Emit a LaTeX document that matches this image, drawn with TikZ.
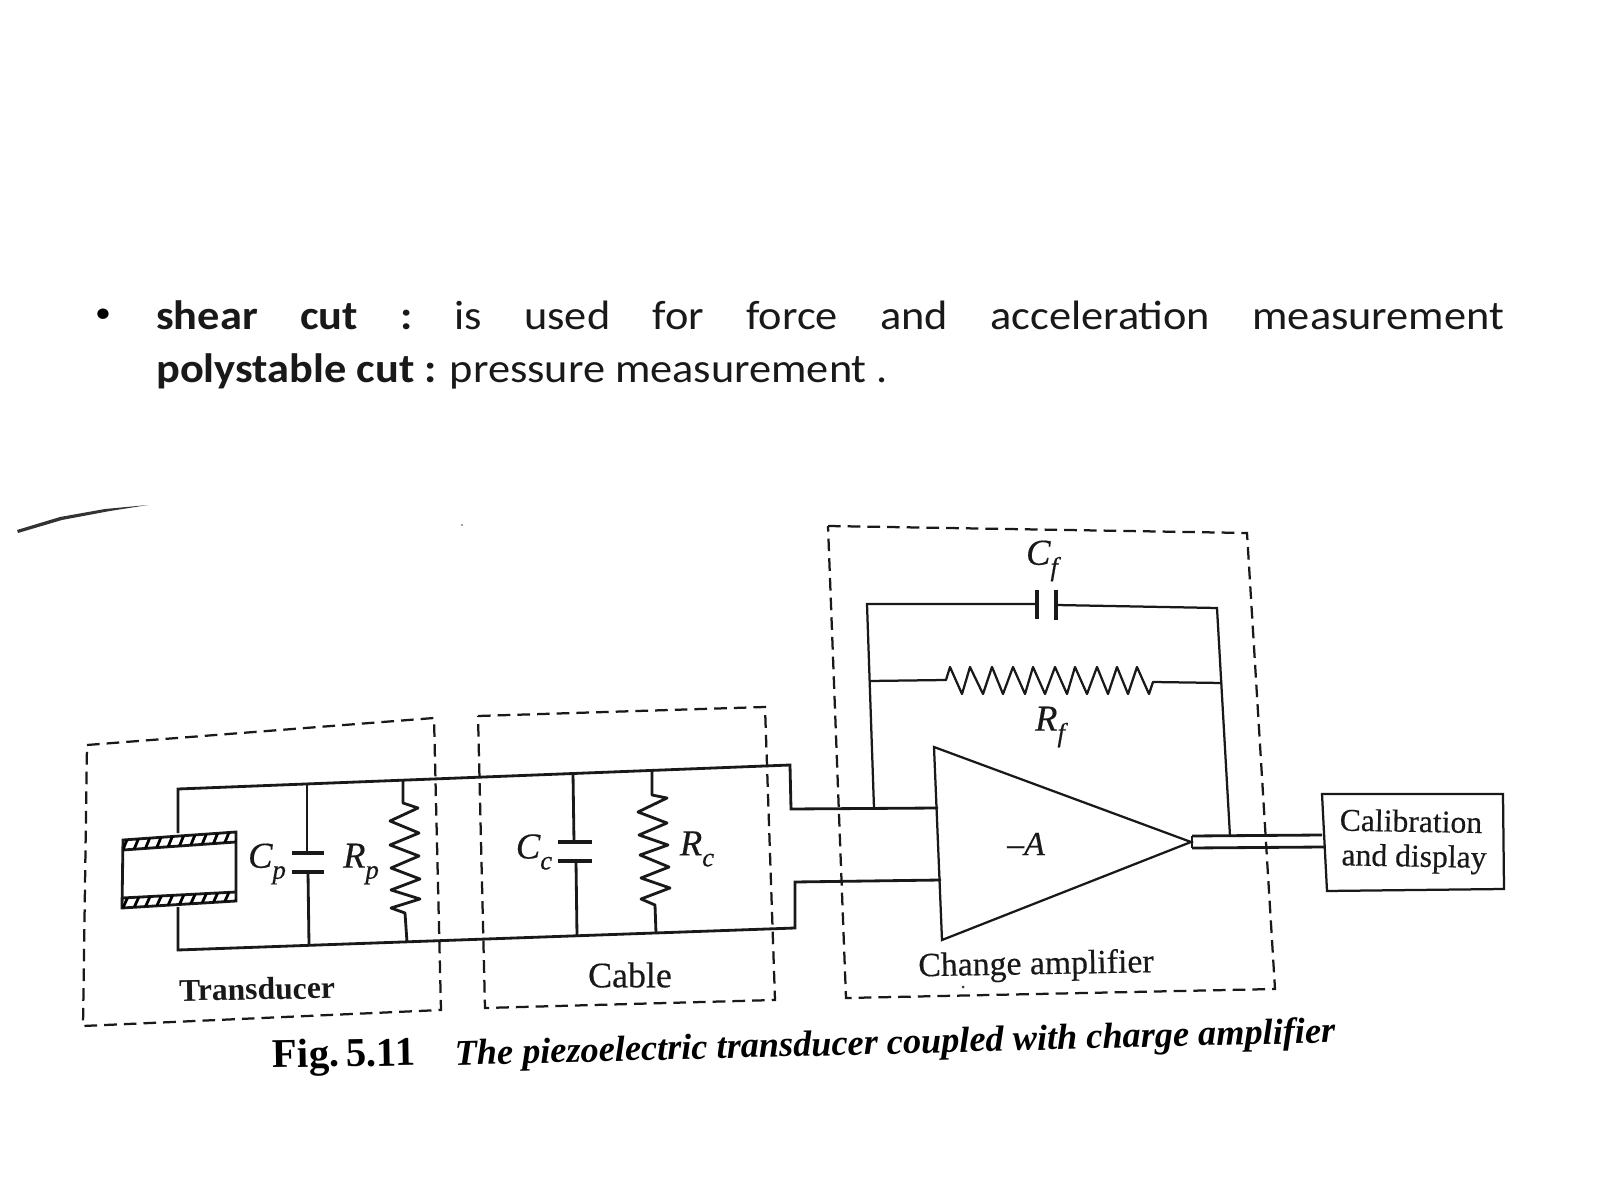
\documentclass[tikz,border=0pt]{standalone}
\usepackage{fontspec}
\setmainfont{Liberation Serif}
\newfontfamily\slidefont[FakeStretch=1.08]{Carlito}
\newfontfamily\scan[FakeBold=0.4]{Liberation Serif}
\newcommand{\lab}[2]{\scan\fontsize{26}{30}\selectfont\itshape #1\raisebox{-.3em}{\fontsize{19}{22}\selectfont #2}}
\begin{document}
\begin{tikzpicture}[x=0.025cm,y=-0.025cm,
  wire/.style={line width=2pt,line join=miter,black!90},
  thinwire/.style={line width=1.6pt,line join=miter,black!90},
  group/.style={line width=1.6pt,dash pattern=on 9pt off 5pt,black!90},
  slide/.style={inner sep=0,anchor=base west,font=\slidefont\fontsize{29.2}{35}\selectfont,black!90},
  label/.style={inner sep=0,font=\scan\fontsize{22.5}{26}\selectfont,black!90}]
\useasboundingbox (0,0) rectangle (1600,1200);
\fill[white] (0,0) rectangle (1600,1200);

% slide text
\node[inner sep=0,font=\slidefont\fontsize{21}{25}\selectfont] (bul) at (103,316) {•};
\node[slide] (l1) at (156,330) {\makebox[958.5pt][s]{\textbf{shear\hfill cut\hfill :}\hfill is\hfill used\hfill for\hfill force\hfill and\hfill acceleration\hfill measurement}};
\node[slide] (l2) at (156,383) {\textbf{polystable cut :} pressure measurement .};

% stray scan marks
\fill[black!80] (17,530) -- (60,517) -- (105,509) -- (148,505) -- (110,511) -- (62,520) -- (18,533) -- cycle;
\fill[black!50] (462,525) circle (1.2);

% dashed groups
\coordinate (t1) at (87,745); \coordinate (t2) at (434,718); \coordinate (t3) at (441,1010); \coordinate (t4) at (83,1026);
\draw[group] (t1) -- (t2) -- (t3) -- (t4) -- cycle;
\coordinate (c1) at (478,716); \coordinate (c2) at (765,707); \coordinate (c3) at (775,1000); \coordinate (c4) at (485,1008);
\draw[group] (c1) -- (c2) -- (c3) -- (c4) -- cycle;
\coordinate (a1) at (828,526); \coordinate (a2) at (1247,533); \coordinate (a3) at (1275,989); \coordinate (a4) at (846,998);
\draw[group] (a1) -- (a2) -- (a3) -- (a4) -- cycle;

% transducer cylinder
\coordinate (po1) at (123,840); \coordinate (po2) at (236,832); \coordinate (po3) at (236,901); \coordinate (po4) at (122,908);
\coordinate (pi1) at (123,850); \coordinate (pi2) at (236,842); \coordinate (pi3) at (236,892); \coordinate (pi4) at (122,898);
\draw[wire] (po1) -- (po2) -- (po3) -- (po4) -- cycle;
\draw[wire] (pi1) -- (pi2);
\draw[wire] (pi4) -- (pi3);
\begin{scope}
  \clip (po1) -- (po2) -- (pi2) -- (pi1) -- cycle;
  \foreach \x in {122,133,...,240} \draw[line width=2pt] (\x,852) -- (\x+9,830);
\end{scope}
\begin{scope}
  \clip (pi4) -- (pi3) -- (po3) -- (po4) -- cycle;
  \foreach \x in {122,133,...,240} \draw[line width=2pt] (\x,910) -- (\x+9,890);
\end{scope}

% main upper and lower rails
\coordinate (u0) at (178,833); \coordinate (u1) at (178,789); \coordinate (u2) at (790,765); \coordinate (u3) at (791,809); \coordinate (u4) at (938,808);
\draw[wire] (u0) -- (u1) -- (u2) -- (u3) -- (u4);
\coordinate (b0) at (178,907); \coordinate (b1) at (178,950); \coordinate (b2) at (795,928); \coordinate (b3) at (795,882); \coordinate (b4) at (941,880);
\draw[wire] (b0) -- (b1) -- (b2) -- (b3) -- (b4);

% Cp
\coordinate (cpt) at (307,784); \coordinate (cpu) at (307,853); \coordinate (cpl) at (308,872); \coordinate (cpb) at (309,945);
\draw[wire] (cpt) -- (cpu); \draw[wire] (cpl) -- (cpb);
\draw[wire,line width=2.6pt] (292,853) -- (324,853);
\draw[wire,line width=2.6pt] (292,872) -- (324,872);
\node[label] (cplab) at (267,864) {\lab{C}{p}};
% Rp
\coordinate (rpt) at (403,780); \coordinate (rpb) at (407,942);
\draw[wire,line join=round] (rpt) -- (403,803) -- (418,808) -- (390,821) -- (419,833) -- (390,845) -- (419,856) -- (391,868) -- (420,879) -- (391,890) -- (420,899) -- (391,908) -- (405,913) -- (rpb);
\node[label] (rplab) at (361,864) {\lab{R}{p}};
% Cc
\coordinate (cct) at (573,773); \coordinate (ccu) at (574,842); \coordinate (ccl) at (576,861); \coordinate (ccb) at (577,936);
\draw[wire] (cct) -- (ccu); \draw[wire] (ccl) -- (ccb);
\draw[wire,line width=2.8pt] (558,842) -- (592,842);
\draw[wire,line width=2.8pt] (558,861) -- (592,861);
\node[label] (cclab) at (534,852) {\lab{C}{c}};
% Rc
\coordinate (rct) at (652,770); \coordinate (rcb) at (656,933);
\draw[wire,line join=round] (rct) -- (652,795) -- (667,798) -- (638,812) -- (667,823) -- (639,835) -- (668,845) -- (640,855) -- (669,867) -- (641,878) -- (670,888) -- (641,899) -- (655,905) -- (rcb);
\node[label] (rclab) at (697,849) {\lab{R}{c}};

% amplifier
\coordinate (ampa) at (934,747); \coordinate (ampt) at (1191,842); \coordinate (ampb) at (942,940);
\draw[thinwire,line join=miter] (ampa) -- (ampt) -- (ampb) -- cycle;
\node[inner sep=0,font=\scan\fontsize{24}{28}\selectfont\itshape,black!90] (gain) at (1026,844) {–A};

% output pair
\coordinate (o1) at (1192,836); \coordinate (o2) at (1322,835); \coordinate (o3) at (1324,847); \coordinate (o4) at (1192,848);
\draw[wire] (o1) -- (o2); \draw[wire] (o4) -- (o3); \draw[wire] (o1) -- (o4);

% feedback
\coordinate (fl0) at (874,808); \coordinate (flr) at (870,681); \coordinate (flc) at (867,604);
\coordinate (fr0) at (1230,836); \coordinate (frr) at (1222,683); \coordinate (frc) at (1217,608);
\draw[thinwire] (fl0) -- (flc) -- (1037,604);
\draw[thinwire] (1056,605) -- (frc) -- (fr0);
\draw[wire,line width=2.6pt] (1037,590) -- (1037,619);
\draw[wire,line width=2.6pt] (1056,590) -- (1056,620);
\node[label] (cflab) at (1042,561) {\lab{C}{f}};
\draw[thinwire,line join=round] (flr) -- (946,680) -- (950,667) -- (962,694) -- (970,667) -- (983,694) -- (992,667) -- (1003,694) -- (1013,667) -- (1025,694) -- (1033,667) -- (1045,694) -- (1055,667) -- (1067,694) -- (1075,667) -- (1087,694) -- (1097,667) -- (1108,694) -- (1117,667) -- (1128,694) -- (1137,667) -- (1149,694) -- (1153,682) -- (frr);
\node[label] (rflab) at (1050,727) {\lab{R}{f}};

% calibration block
\coordinate (k1) at (1322,794); \coordinate (k2) at (1503,794); \coordinate (k3) at (1504,889); \coordinate (k4) at (1327,891);
\draw[thinwire] (k1) -- (k2) -- (k3) -- (k4) -- cycle;
\node[label,rotate=-1] (cal1) at (1411,821) {Calibration};
\node[label,rotate=-1] (cal2) at (1414,859) {and display};

% labels
\node[label,font=\bfseries\fontsize{22.5}{26}\selectfont,rotate=1] (trl) at (257,989) {Transducer};
\node[label,font=\scan\fontsize{25.5}{29}\selectfont] (cbl) at (630,975) {Cable};
\node[label,font=\scan\fontsize{24}{28}\selectfont,rotate=1] (chl) at (1036,966) {Change amplifier};
\fill[black!80] (963,987) circle (1.5);

% caption
\node[inner sep=0,font=\bfseries\fontsize{29}{33}\selectfont,rotate=1,black] (figno) at (344,1057) {Fig.\,5.11};
\node[inner sep=0,font=\bfseries\itshape\fontsize{25.8}{30}\selectfont,rotate=1.5,black] (figcap) at (895,1045) {The piezoelectric transducer coupled with charge amplifier};
\end{tikzpicture}
\end{document}
